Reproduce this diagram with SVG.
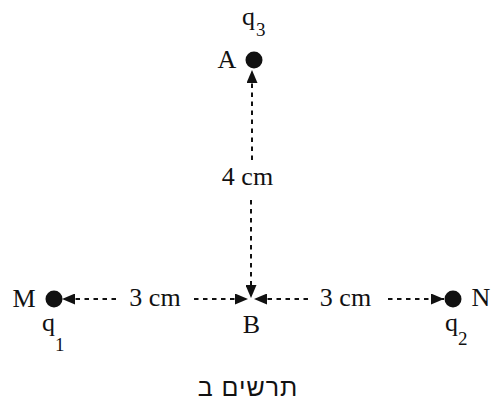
<svg xmlns="http://www.w3.org/2000/svg" width="492" height="401" viewBox="0 0 492 401">
<defs>
<marker id="ah" viewBox="0 0 13 11" refX="13" refY="5.5" markerWidth="13" markerHeight="11" markerUnits="userSpaceOnUse" orient="auto-start-reverse">
<path d="M0,0 L13,5.5 L0,11 Z" fill="#111"/>
</marker>
<style>
.d{stroke:#111;stroke-width:2;stroke-dasharray:4.5 4.5;fill:none}
.dot{fill:#111}
</style>
</defs>
<rect width="492" height="401" fill="#fff"/>
<g id="connectors">
<line class="d" x1="252" y1="160" x2="252" y2="70" marker-end="url(#ah)"/>
<line class="d" x1="251" y1="200" x2="251" y2="298" marker-end="url(#ah)"/>
<line class="d" x1="116" y1="299" x2="62" y2="299" marker-end="url(#ah)"/>
<line class="d" x1="194" y1="299" x2="248" y2="299" marker-end="url(#ah)"/>
<line class="d" x1="308" y1="299" x2="254" y2="299" marker-end="url(#ah)"/>
<line class="d" x1="388" y1="299" x2="444" y2="299" marker-end="url(#ah)"/>
</g>
<g font-family="'Liberation Serif', 'Times New Roman', serif" fill="#111">
<g id="A">
<circle class="dot" cx="254" cy="60" r="8.5"/>
<text x="227" y="68" font-size="26" text-anchor="middle">A</text>
<text x="242" y="25" font-size="26">q</text>
<text x="256" y="36" font-size="19">3</text>
</g>
<g id="M">
<circle class="dot" cx="54" cy="299" r="8.5"/>
<text x="24" y="307" font-size="26" text-anchor="middle">M</text>
<text x="42" y="331" font-size="26">q</text>
<text x="55" y="351" font-size="19">1</text>
</g>
<g id="B">
<text x="251.5" y="333" font-size="26" text-anchor="middle">B</text>
</g>
<g id="N">
<circle class="dot" cx="453" cy="299" r="8.5"/>
<text x="481" y="306" font-size="26" text-anchor="middle">N</text>
<text x="445" y="331" font-size="26">q</text>
<text x="458" y="345" font-size="19">2</text>
</g>
<g id="labels">
<text x="247.5" y="185" font-size="26" text-anchor="middle">4 cm</text>
<text x="155" y="306" font-size="26" text-anchor="middle">3 cm</text>
<text x="345.5" y="306" font-size="26" text-anchor="middle">3 cm</text>
<text x="248" y="396" text-anchor="middle" direction="rtl" font-family="'Liberation Sans', Arial, sans-serif" font-size="25" letter-spacing="1">תרשים ב</text>
</g>
</g>
</svg>
